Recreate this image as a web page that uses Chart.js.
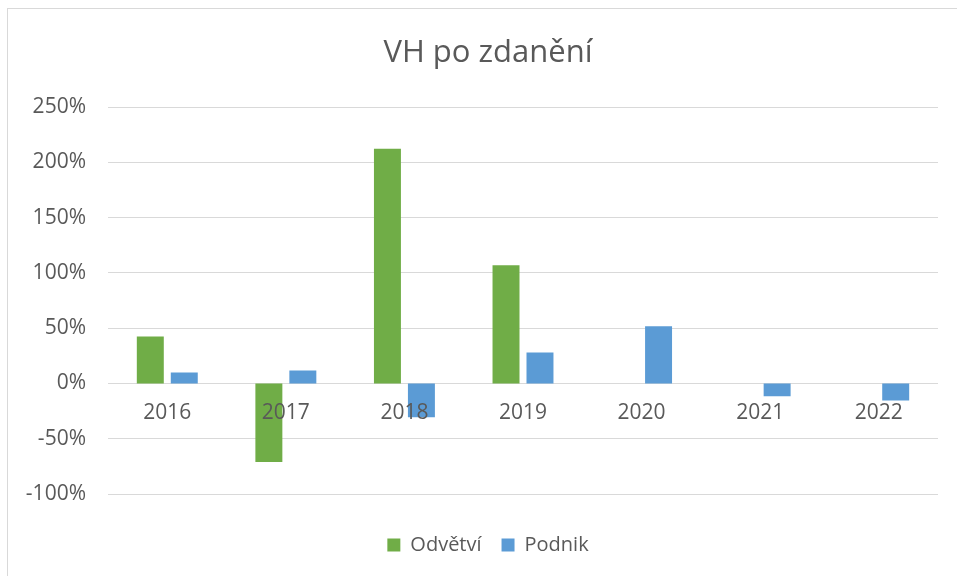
<!DOCTYPE html>
<html>
<head>
<meta charset="utf-8">
<script src="https://cdn.jsdelivr.net/npm/chart.js@4/dist/chart.umd.min.js"></script>
<style>
  html, body { margin: 0; padding: 0; background: #fff; overflow: hidden; }
  #frame { position: absolute; left: 7px; top: 8px; width: 960px; height: 580px; border: 1px solid #d9d9d9; box-sizing: border-box; }
  /* a bit wider than the window so title and legend centre on the frame */
  #wrap { position: absolute; left: 0; top: 0; width: 976px; height: 576px; }
</style>
</head>
<body>
<div id="frame"></div>
<div id="wrap"><canvas id="chart"></canvas></div>
<script>
// Data (percent)
var years = ['2016', '2017', '2018', '2019', '2020', '2021', '2022'];
var odvetvi = [42.6, -71, 212.5, 107, null, null, null];
var podnik = [10, 11.8, -30.6, 28, 51.7, -11.5, -15.4];

var textColor = '#595959';
var gridColor = '#d9d9d9';
var fontFamily = '"Open Sans", "Noto Sans", sans-serif';

var ctx = document.getElementById('chart').getContext('2d');
var chart = new Chart(ctx, {
    type: 'bar',
    data: {
        labels: years,
        datasets: [{
            label: 'Odvětví',
            data: odvetvi,
            backgroundColor: '#70ad47',
            borderWidth: 0
        }, {
            label: 'Podnik',
            data: podnik,
            backgroundColor: '#5b9bd5',
            borderWidth: 0
        }]
    },
    options: {
        responsive: true,
        maintainAspectRatio: false,
        animation: false,
        datasets: {
            bar: {
                categoryPercentage: 0.573,
                barPercentage: 0.794
            }
        },
        layout: {
            padding: { left: 0, right: 0, top: 0, bottom: 11 }
        },
        plugins: {
            title: {
                display: true,
                text: 'VH po zdanění',
                color: textColor,
                font: { family: fontFamily, size: 31, weight: 'normal' },
                padding: { top: 35, bottom: 35 }
            },
            legend: {
                position: 'bottom',
                labels: {
                    color: textColor,
                    font: { family: fontFamily, size: 20 },
                    boxWidth: 13,
                    boxHeight: 13,
                    padding: 20
                }
            },
            tooltip: { enabled: false }
        },
        scales: {
            x: {
                position: { y: 0 },
                grid: { display: false, drawTicks: false },
                border: { display: false },
                ticks: {
                    z: 1,
                    color: textColor,
                    font: { family: fontFamily, size: 21 },
                    padding: 17,
                    maxRotation: 0
                }
            },
            // empty axes, only keep room below and right of the plot
            spacer: {
                type: 'category',
                position: 'bottom',
                grid: { display: false, drawTicks: false },
                border: { display: false },
                ticks: { display: false },
                afterFit: function (scale) { scale.height = 21; }
            },
            spacerRight: {
                type: 'linear',
                position: 'right',
                grid: { display: false, drawTicks: false },
                border: { display: false },
                ticks: { display: false },
                afterFit: function (scale) { scale.width = 38; }
            },
            y: {
                min: -100,
                max: 250,
                grid: { color: gridColor, lineWidth: 1, drawTicks: false },
                border: { display: false },
                ticks: {
                    stepSize: 50,
                    color: textColor,
                    font: { family: fontFamily, size: 21 },
                    padding: 22,
                    callback: function (v) { return v + '%'; }
                },
                afterFit: function (scale) { scale.width = 108; }
            }
        }
    }
});
</script>
</body>
</html>
